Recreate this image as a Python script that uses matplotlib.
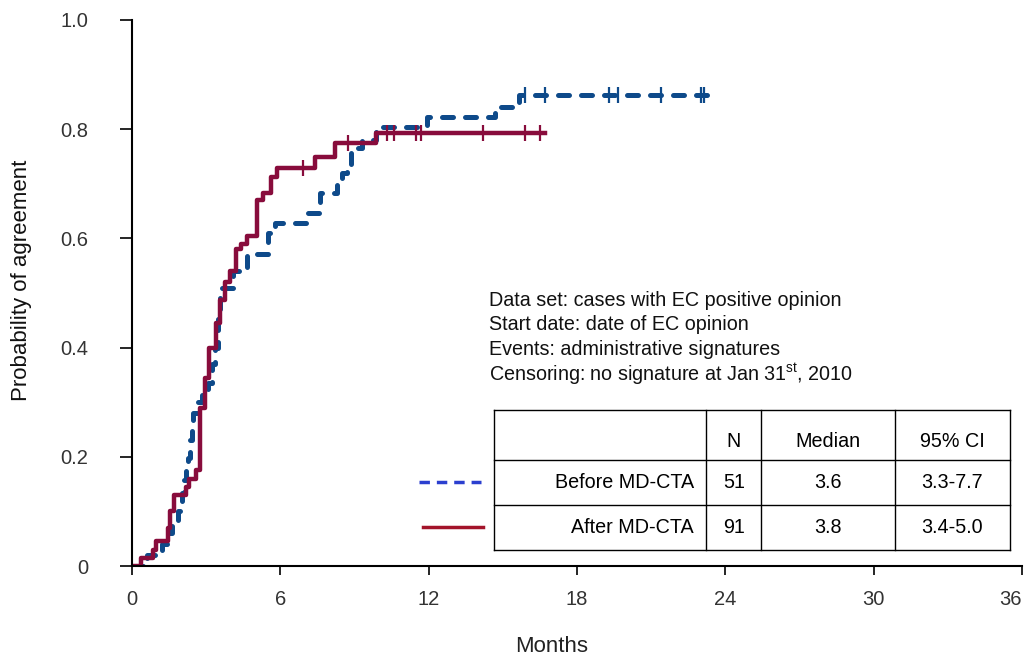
import numpy as np
import matplotlib
matplotlib.use('Agg')
import matplotlib.pyplot as plt

plt.rcParams['font.family'] = ['Liberation Sans', 'DejaVu Sans']
plt.rcParams['mathtext.fontset'] = 'custom'
plt.rcParams['mathtext.rm'] = 'Liberation Sans'

# Kaplan-Meier steps, months / probability of agreement
t_before = [0, 0.6, 1.2, 1.4, 1.6, 1.87, 2.0, 2.1, 2.2, 2.27,
            2.35, 2.42, 2.47, 2.63, 2.84, 3.08, 3.24, 3.36, 3.49, 3.57,
            4.1, 4.66, 5.5, 5.8, 7.13, 7.6, 8.3, 8.5, 8.7, 8.85,
            9.05, 9.3, 9.85, 11.95, 14.7, 15.4, 15.65, 23.4]
p_before = [0, 0.02, 0.04, 0.06, 0.08, 0.10, 0.134, 0.157, 0.176, 0.197,
            0.23, 0.255, 0.28, 0.30, 0.313, 0.335, 0.37, 0.40, 0.463, 0.51,
            0.54, 0.572, 0.61, 0.628, 0.646, 0.683, 0.707, 0.72, 0.73, 0.756,
            0.766, 0.78, 0.804, 0.822, 0.84, 0.85, 0.862, 0.862]
cens_before = [15.9, 16.7, 19.3, 19.65, 21.4, 23.0, 23.15]

t_after = [0, 0.35, 0.85, 0.95, 1.45, 1.55, 1.7, 2.2, 2.3, 2.6,
           2.76, 2.96, 3.1, 3.4, 3.57, 3.77, 3.97, 4.2, 4.4, 4.66,
           5.07, 5.3, 5.6, 5.87, 7.4, 8.2, 9.85, 16.7]
p_after = [0, 0.015, 0.03, 0.045, 0.07, 0.10, 0.13, 0.145, 0.16, 0.175,
           0.29, 0.345, 0.40, 0.445, 0.487, 0.52, 0.54, 0.58, 0.59, 0.605,
           0.67, 0.683, 0.712, 0.729, 0.749, 0.775, 0.793, 0.793]
cens_after = [6.9, 8.75, 10.3, 10.6, 11.5, 11.7, 14.2, 15.9, 16.5]

groups = ['Before MD-CTA', 'After MD-CTA']
n_cases = ['51', '91']
medians = ['3.6', '3.8']
ci95 = ['3.3-7.7', '3.4-5.0']
notes = ['Data set: cases with EC positive opinion',
         'Start date: date of EC opinion',
         'Events: administrative signatures',
         r'Censoring: no signature at Jan 31$^{\mathrm{st}}$, 2010']

blue = '#0e4a8a'
red = '#880c3c'

fig = plt.figure(figsize=(10.24, 6.6), dpi=100)
ax = fig.add_axes([0.129, 0.1424, 0.869, 0.8273])

ax.step(t_before, p_before, where='post', color=blue, lw=3.6,
        dashes=(2.2, 2.4), dash_capstyle='round')
ax.step(t_after, p_after, where='post', color=red, lw=3.2)

def at(ts, ps, x):
    i = np.searchsorted(ts, x, side='right') - 1
    return ps[i]

ax.plot(cens_before, [at(t_before, p_before, c) for c in cens_before], ls='none',
        marker='|', ms=11, mew=1.6, color=blue)
ax.plot(cens_after, [at(t_after, p_after, c) for c in cens_after], ls='none',
        marker='|', ms=11, mew=1.6, color=red)

ax.set_xlim(0, 36)
ax.set_ylim(0, 1)
ax.set_xticks(range(0, 37, 6))
ax.set_yticks([0, 0.2, 0.4, 0.6, 0.8, 1.0])
ax.set_yticklabels(['0', '0.2', '0.4', '0.6', '0.8', '1.0'])
for s in ['top', 'right']:
    ax.spines[s].set_visible(False)
for s in ['left', 'bottom']:
    ax.spines[s].set_linewidth(1.5)
ax.tick_params(axis='y', length=8.6, width=1.2, pad=23, labelsize=14.5, labelcolor='#333333')
ax.tick_params(axis='x', length=6.5, width=1.2, pad=11, labelsize=14.5, labelcolor='#333333')
ax.get_xticklabels()[-1].set_horizontalalignment('right')
ax.set_xlabel('Months', fontsize=16, color='#222222')
ax.set_ylabel('Probability of agreement', fontsize=16, color='#111111')
ax.xaxis.set_label_coords(0.471, -0.129)
ax.yaxis.set_label_coords(-0.113, 0.524)

# notes
for i, s in enumerate(notes):
    ax.text(14.45, 0.487 - i * 0.0455, s, fontsize=14.2, va='center', ha='left', color='#111111')

# table
xs = [14.63, 23.23, 25.46, 30.85, 35.5]
ys = [0.286, 0.194, 0.112, 0.029]
for y in ys:
    ax.plot([xs[0], xs[-1]], [y, y], color='black', lw=1.0, clip_on=False)
for x in xs:
    ax.plot([x, x], [ys[0], ys[-1]], color='black', lw=1.0, clip_on=False)
hy = 0.228
fs = 14.2
ax.text((xs[1] + xs[2]) / 2, hy, 'N', fontsize=fs, ha='center', va='center')
ax.text((xs[2] + xs[3]) / 2, hy, 'Median', fontsize=fs, ha='center', va='center')
ax.text((xs[3] + xs[4]) / 2, hy, '95% CI', fontsize=fs, ha='center', va='center')
for i in range(2):
    yc = (ys[i + 1] + ys[i + 2]) / 2
    ax.text(xs[1] - 0.5, yc, groups[i], fontsize=fs, ha='right', va='center')
    ax.text((xs[1] + xs[2]) / 2, yc, n_cases[i], fontsize=fs, ha='center', va='center')
    ax.text((xs[2] + xs[3]) / 2, yc, medians[i], fontsize=fs, ha='center', va='center')
    ax.text((xs[3] + xs[4]) / 2, yc, ci95[i], fontsize=fs, ha='center', va='center')

# legend keys
ax.plot([11.6, 14.1], [0.154, 0.154], color='#2b3fcf', lw=2.5, dashes=(3, 2), clip_on=False)
ax.plot([11.75, 14.2], [0.071, 0.071], color='#a3142a', lw=2.5, clip_on=False)

fig.savefig('out.png', dpi=100)
